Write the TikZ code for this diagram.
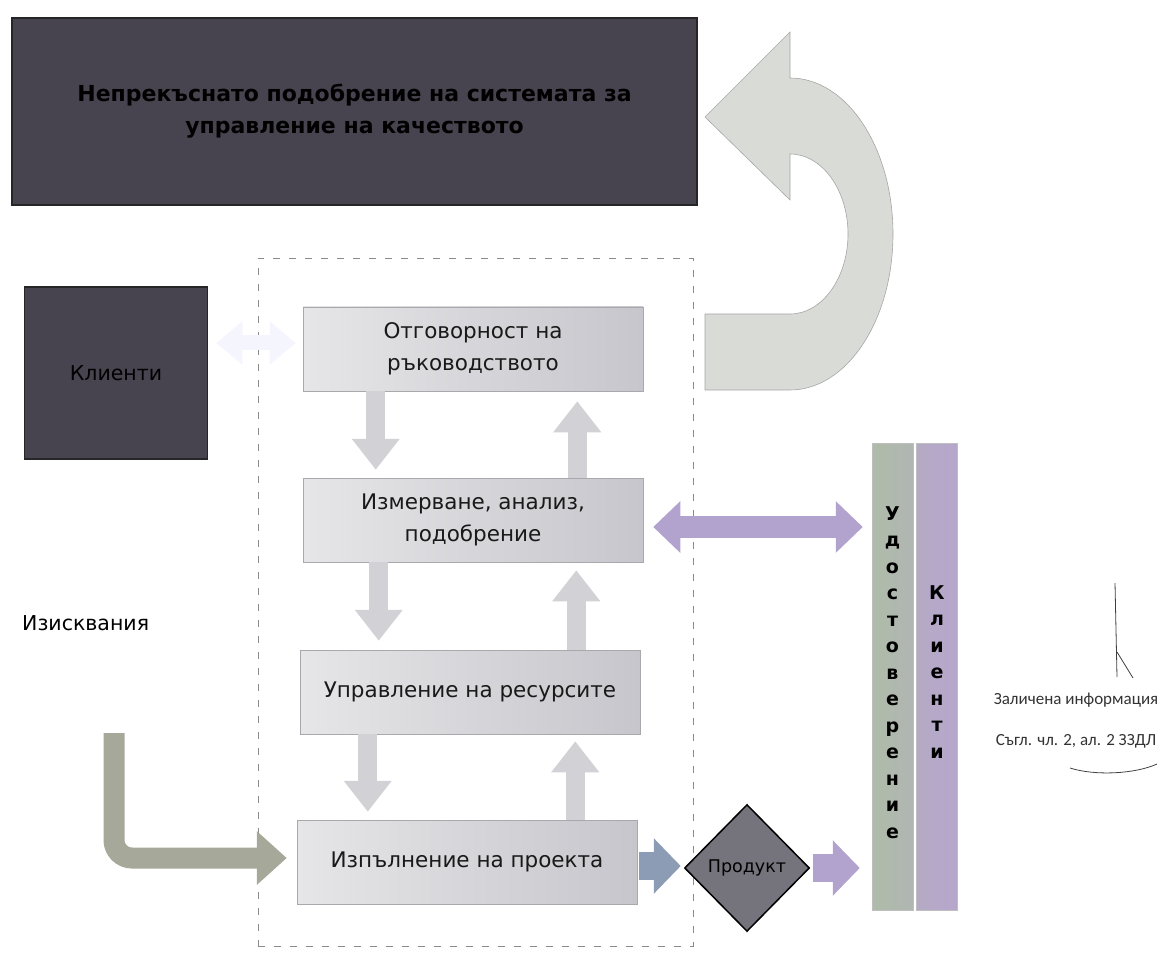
\documentclass[tikz,border=0pt]{standalone}
\usepackage{fontspec}
\setmainfont{DejaVu Sans}
\newfontfamily\calfont{Carlito}
\usetikzlibrary{arrows.meta,shapes.geometric}
\definecolor{darkfill}{HTML}{47444F}
\definecolor{procL}{HTML}{E6E6E8}
\definecolor{procR}{HTML}{C6C6CC}
\definecolor{arrgrey}{HTML}{D2D2D6}
\definecolor{lav}{HTML}{B2A2CE}
\definecolor{bluegrey}{HTML}{8C9CB4}
\definecolor{lshape}{HTML}{A6A89A}
\definecolor{barA}{HTML}{AEBCA8}
\definecolor{barB}{HTML}{B6A6CC}
\definecolor{uturn}{HTML}{D9DCD6}
\begin{document}
\begin{tikzpicture}[x=1pt,y=-1pt,
  darkbox/.style={rectangle,fill=darkfill,draw=black!85,line width=1.5pt,inner sep=0pt,align=center,text=black},
  procbox/.style={rectangle,minimum width=340pt,minimum height=84pt,inner sep=0pt,left color=procL,right color=procR,draw=procR!85!black,line width=0.5pt,align=center,text=black!90,font=\fontsize{21.5}{32}\selectfont},
  vbar/.style={rectangle,minimum width=41pt,minimum height=467pt,inner sep=0pt,draw=black!25,line width=0.5pt},
  barletters/.style={font=\bfseries\fontsize{19}{26.5}\selectfont,align=center,inner sep=0pt,text=black},
  updown/.style={line width=19pt,color=arrgrey,-{Triangle[length=31pt,width=46pt]}},
  sig/.style={line width=0.8pt,color=black!75}
]
\useasboundingbox (0,0) rectangle (1164,957);

% top box
\node[darkbox,minimum width=685pt,minimum height=187pt,font=\bfseries\fontsize{22}{32}\selectfont] (top) at (354.5,111.5)
  {Непрекъснато подобрение на системата за\\управление на качеството};

% U-turn arrow
\fill[uturn,draw=black!35,line width=0.6pt]
  (705,314) -- (790,314)
  .. controls (822,314) and (848,278) .. (848,234)
  .. controls (848,190) and (822,154) .. (790,154)
  -- (790,200) -- (705,117) -- (790,32) -- (790,78)
  .. controls (847,78) and (893,148) .. (893,234)
  .. controls (893,320) and (847,390) .. (790,390)
  -- (705,390) -- cycle;

% dashed frame
\node[rectangle,draw=black!45,dashed,dash pattern=on 7pt off 9pt,line width=0.8pt,minimum width=435pt,minimum height=688pt,inner sep=0pt] (frame) at (475.5,602) {};

% clients box
\node[darkbox,minimum width=183pt,minimum height=172pt,font=\fontsize{20.5}{24}\selectfont] (kl) at (116,373) {Клиенти};

% process boxes
\node[procbox] (b1) at (473,349) {Отговорност на\\ръководството};
\node[procbox] (b2) at (473,520) {Измерване, анализ,\\подобрение};
\node[procbox] (b3) at (470,692) {Управление на ресурсите};
\node[procbox] (b4) at (467,862) {Изпълнение на проекта};

% requirements
\node[anchor=west,inner sep=0pt,font=\fontsize{20.5}{24}\selectfont] (req) at (22,623) {Изисквания};

% product diamond
\node[diamond,aspect=1,minimum width=125pt,minimum height=127pt,inner sep=0pt,fill=darkfill!75!white,draw=black,line width=1.5pt,font=\fontsize{17.5}{20}\selectfont] (prod) at (747,868) {Продукт};

% vertical bars
\node[vbar,left color=barA,right color=barA!70!barB] (bar1) at (892.5,676.5) {};
\node[vbar,left color=barB!80!barA,right color=barB] (bar2) at (937,676.5) {};
\node[barletters,anchor=north] (t1) at (892.5,506) {У\\д\\о\\с\\т\\о\\в\\е\\р\\е\\н\\и\\е};
\node[barletters,anchor=north] (t2) at (937,585) {К\\л\\и\\е\\н\\т\\и};

% redacted note
\node[font=\calfont\fontsize{17}{20}\selectfont,text=black!80,inner sep=0pt] (n1) at (1076,700) {Заличена информация};
\node[font=\calfont\fontsize{17}{20}\selectfont,text=black!80,inner sep=0pt] (n2) at (1076,741) {Съгл. чл. 2, ал. 2 ЗЗДЛ};
\draw[sig] (1115,583) -- (1117,677);
\draw[sig] (1117,652) -- (1133,678);
\draw[sig] (1070,768) .. controls (1095,776) and (1135,774) .. (1157,764);

% vertical flow arrows
\draw[updown] ([xshift=73pt]b1.south west) -- ([xshift=73pt,yshift=8pt]b1.south west |- b2.north);
\draw[updown] ([xshift=-66pt]b2.north east) -- ([xshift=-66pt,yshift=-10pt]b2.north east |- b1.south);
\draw[updown] ([xshift=76pt]b2.south west) -- ([xshift=76pt,yshift=9pt]b2.south west |- b3.north);
\draw[updown] ([xshift=-64pt]b3.north east) -- ([xshift=-64pt,yshift=-8pt]b3.north east |- b2.south);
\draw[updown] ([xshift=68pt]b3.south west) -- ([xshift=68pt,yshift=8pt]b3.south west |- b4.north);
\draw[updown] ([xshift=-62pt]b4.north east) -- ([xshift=-62pt,yshift=-7pt]b4.north east |- b3.south);

% clients <-> management (faint)
\draw[line width=15pt,color=black!6!blue!4!white,{Triangle[length=26pt,width=42pt]}-{Triangle[length=26pt,width=42pt]}]
  ([yshift=6pt,xshift=8pt]kl.east |- b1.west) -- ([yshift=6pt,xshift=-7pt]b1.west);

% measurement <-> certification
\draw[line width=22pt,color=lav,{Triangle[length=27pt,width=50pt]}-{Triangle[length=27pt,width=50pt]}]
  ([yshift=-7pt,xshift=10pt]b2.east) -- ([yshift=-7pt,xshift=-9pt]b2.east -| bar1.west);

% requirements L-arrow
\coordinate (lstart) at (114,733);
\draw[line width=21pt,color=lshape,rounded corners=18pt,-{Triangle[length=30pt,width=52pt]}]
  (lstart) |- ([yshift=4pt,xshift=-10pt]b4.west);

% project -> product
\draw[line width=28pt,color=bluegrey,-{Triangle[length=27pt,width=54pt]}]
  ([xshift=2pt,yshift=-4pt]b4.east) -- ([xshift=-3pt,yshift=-4pt]b4.east -| prod.west);

% product -> certification
\draw[line width=28pt,color=lav,-{Triangle[length=27pt,width=54pt]}]
  ([xshift=3pt]prod.east) -- ([xshift=-12pt]prod.east -| bar1.west);
\end{tikzpicture}
\end{document}
